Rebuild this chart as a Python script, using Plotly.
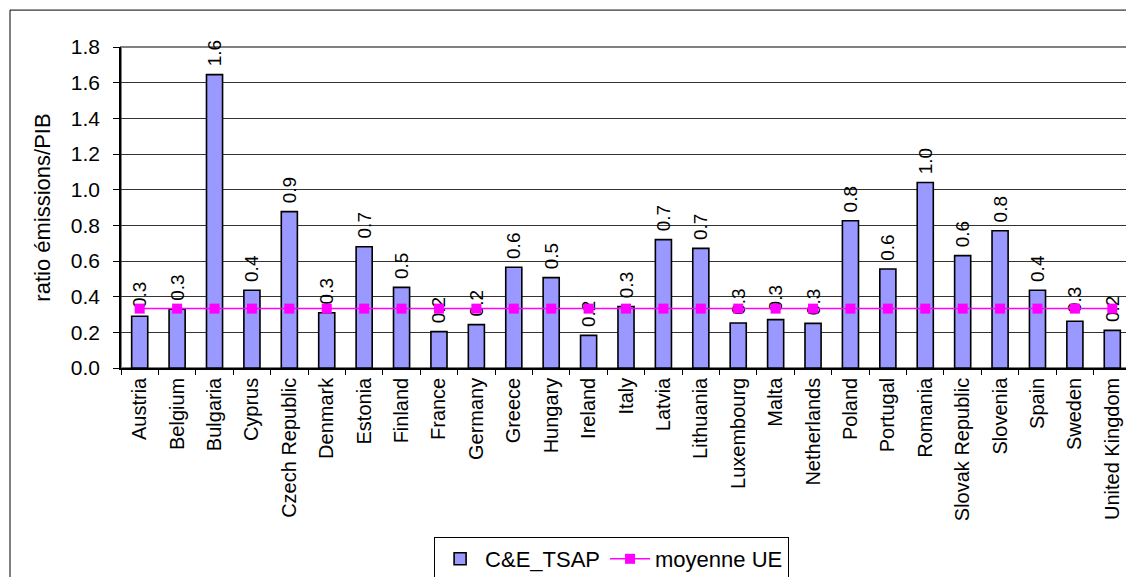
import plotly.graph_objects as go

countries = ["Austria", "Belgium", "Bulgaria", "Cyprus", "Czech Republic", "Denmark",
             "Estonia", "Finland", "France", "Germany", "Greece", "Hungary", "Ireland",
             "Italy", "Latvia", "Lithuania", "Luxembourg", "Malta", "Netherlands",
             "Poland", "Portugal", "Romania", "Slovak Republic", "Slovenia", "Spain",
             "Sweden", "United Kingdom"]

ratio = [0.29, 0.33, 1.645, 0.436, 0.877, 0.31, 0.68, 0.452, 0.204, 0.243, 0.565,
         0.507, 0.183, 0.345, 0.72, 0.671, 0.252, 0.271, 0.25, 0.826, 0.555, 1.04,
         0.63, 0.77, 0.436, 0.262, 0.211]

moyenne_ue = [0.333] * len(countries)

y_ticks = [0.0, 0.2, 0.4, 0.6, 0.8, 1.0, 1.2, 1.4, 1.6, 1.8]

font_family = "Liberation Sans, Arial, sans-serif"

fig = go.Figure()

fig.add_trace(go.Bar(
    x=countries, y=ratio, name="C&E_TSAP",
    marker=dict(color="#9999FF", line=dict(color="black", width=1.6)),
    texttemplate="\u00a0%{y:.1f}", textposition="outside", textangle=-90,
    textfont=dict(size=19, color="black"),
    cliponaxis=False, constraintext="none",
))

fig.add_trace(go.Scatter(
    x=countries, y=moyenne_ue, name="moyenne UE", mode="lines+markers",
    line=dict(color="#FF00FF", width=1.5),
    marker=dict(symbol="square", size=10, color="#FF00FF"),
))

# page has an 8px body margin, so the figure is 8px smaller than the window
fig.update_layout(
    width=1126, height=569,
    margin=dict(l=113, r=3, t=39, b=209, autoexpand=False),
    paper_bgcolor="white", plot_bgcolor="white",
    font=dict(family=font_family, color="black"),
    bargap=0.57,
    showlegend=True,
    legend=dict(
        orientation="h", x=0.31, y=-0.5265, xanchor="left", yanchor="top",
        bordercolor="black", borderwidth=1, font=dict(size=22),
        bgcolor="white", itemwidth=40,
    ),
    shapes=[
        dict(type="rect", xref="paper", yref="paper", x0=0, x1=1, y0=0, y1=1,
             line=dict(color="#808080", width=2), layer="below"),
        dict(type="rect", xref="paper", yref="paper", x0=-0.1099, x1=1.05,
             y0=-0.7, y1=1.115, line=dict(color="black", width=1)),
    ],
)

fig.update_yaxes(
    range=[0, 1.8], tickvals=y_ticks, ticktext=[f"{v:.1f}" for v in y_ticks],
    showgrid=True, gridcolor="#333333", gridwidth=1,
    showline=True, linecolor="black", linewidth=1.5,
    ticks="outside", ticklen=6, tickcolor="black", ticklabelstandoff=9,
    tickfont=dict(size=21), zeroline=False, automargin=False,
    title=dict(text="ratio émissions/PIB", font=dict(size=22), standoff=14),
)

fig.update_xaxes(
    type="category", range=[-0.5, len(countries) - 0.5],
    tickangle=-90, tickfont=dict(size=20),
    showline=True, linecolor="black", linewidth=1.5, automargin=False,
    ticks="outside", ticklen=5, tickcolor="black", tickson="boundaries",
    showgrid=False,
)

fig.write_html("out.html")
